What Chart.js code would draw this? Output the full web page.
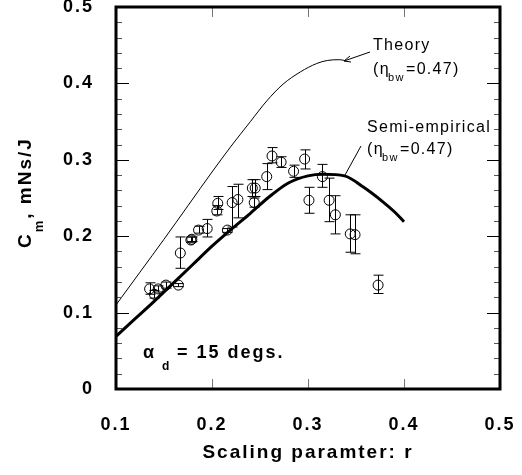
<!DOCTYPE html>
<html>
<head>
<meta charset="utf-8">
<script src="https://cdn.jsdelivr.net/npm/chart.js@4.4.1/dist/chart.umd.min.js"></script>
<style>
  html, body { margin: 0; padding: 0; background: #fff; }
  #wrap { width: 522px; height: 475px; }
</style>
</head>
<body>
<div id="wrap"><canvas id="cmChart" width="522" height="475"></canvas></div>
<script>
// measured points
const rValues  = [0.135, 0.140, 0.144, 0.152, 0.165, 0.167, 0.178, 0.179, 0.186, 0.195,
                  0.205, 0.206, 0.216, 0.221, 0.227, 0.242, 0.244, 0.245, 0.257, 0.2625,
                  0.272, 0.285, 0.2965, 0.301, 0.315, 0.322, 0.3285, 0.344, 0.349, 0.373];
const cmValues = [0.131, 0.124, 0.131, 0.136, 0.136, 0.178, 0.195, 0.196, 0.208, 0.210,
                  0.233, 0.243, 0.208, 0.244, 0.248, 0.263, 0.244, 0.263, 0.278, 0.305,
                  0.297, 0.285, 0.301, 0.247, 0.278, 0.247, 0.228, 0.203, 0.202, 0.136];
const cmLow    = [0.124, 0.119, 0.127, 0.132, 0.134, 0.158, 0.192, 0.193, 0.204, 0.199,
                  0.228, 0.235, 0.205, 0.212, 0.224, 0.252, 0.238, 0.252, 0.261, 0.296,
                  0.290, 0.277, 0.288, 0.230, 0.264, 0.219, 0.203, 0.179, 0.177, 0.125];
const cmHigh   = [0.139, 0.129, 0.135, 0.140, 0.138, 0.199, 0.199, 0.199, 0.213, 0.222,
                  0.240, 0.252, 0.210, 0.265, 0.268, 0.274, 0.250, 0.274, 0.295, 0.316,
                  0.304, 0.293, 0.313, 0.264, 0.294, 0.276, 0.253, 0.228, 0.228, 0.149];

// model curves
const theoryR  = [0.1, 0.125, 0.15, 0.175, 0.2, 0.22, 0.24, 0.257, 0.274, 0.292, 0.309, 0.32, 0.333, 0.338];
const theoryCm = [0.110, 0.153, 0.196, 0.240, 0.284, 0.318, 0.350, 0.377, 0.399, 0.415, 0.426, 0.430, 0.431, 0.430];
const semiR    = [0.1, 0.12, 0.14, 0.16, 0.18, 0.2, 0.22, 0.24, 0.26, 0.28, 0.30, 0.316, 0.338, 0.358, 0.378, 0.39, 0.4];
const semiCm   = [0.069, 0.092, 0.115, 0.139, 0.163, 0.187, 0.209, 0.230, 0.252, 0.270, 0.279, 0.281, 0.279, 0.264, 0.245, 0.232, 0.219];

const xTicks = [0.1, 0.2, 0.3, 0.4, 0.5];
const yTicks = [0, 0.1, 0.2, 0.3, 0.4, 0.5];

const toXY = (xs, ys) => xs.map((x, i) => ({ x: x, y: ys[i] }));

const errorBars = {
  id: 'errorBars',
  afterDatasetsDraw(chart) {
    const ctx = chart.ctx, x = chart.scales.x, y = chart.scales.y;
    ctx.save();
    ctx.strokeStyle = '#000';
    ctx.lineWidth = 1;
    rValues.forEach((r, i) => {
      const px = Math.round(x.getPixelForValue(r)) + 0.5;
      const lo = y.getPixelForValue(cmLow[i]);
      const hi = y.getPixelForValue(cmHigh[i]);
      ctx.beginPath();
      ctx.moveTo(px, lo); ctx.lineTo(px, hi);
      ctx.moveTo(px - 5, lo); ctx.lineTo(px + 5, lo);
      ctx.moveTo(px - 5, hi); ctx.lineTo(px + 5, hi);
      ctx.stroke();
    });
    ctx.restore();
  }
};

const frame = {
  id: 'frame',
  beforeDraw(chart) {
    chart.ctx.letterSpacing = '2px';
  },
  afterDraw(chart) {
    const ctx = chart.ctx, a = chart.chartArea;
    const x = chart.scales.x, y = chart.scales.y;
    ctx.save();
    ctx.letterSpacing = '0px';
    // inward ticks
    ctx.lineWidth = 1;
    for (let k = 1; k < 25; k++) {
      const v = k * 0.02;
      const py = Math.round(y.getPixelForValue(v)) + 0.5;
      const len = (k % 5 === 0) ? 13 : 6;
      ctx.strokeStyle = (k % 5 === 0) ? '#000' : '#555';
      ctx.beginPath();
      ctx.moveTo(a.left, py); ctx.lineTo(a.left + len, py);
      ctx.moveTo(a.right, py); ctx.lineTo(a.right - len, py);
      ctx.stroke();
    }
    ctx.strokeStyle = '#777';
    [0.2, 0.3, 0.4].forEach(v => {
      const px = Math.round(x.getPixelForValue(v)) + 0.5;
      ctx.beginPath();
      ctx.moveTo(px, a.bottom); ctx.lineTo(px, a.bottom - 10);
      ctx.moveTo(px, a.top); ctx.lineTo(px, a.top + 10);
      ctx.stroke();
    });
    // box
    ctx.strokeStyle = '#000';
    ctx.lineWidth = 3;
    ctx.strokeRect(a.left, a.top, a.right - a.left, a.bottom - a.top);

    // y axis title with subscript
    ctx.fillStyle = '#000';
    ctx.translate(31, 248);
    ctx.rotate(-Math.PI / 2);
    ctx.letterSpacing = '2px';
    ctx.textBaseline = 'alphabetic';
    ctx.font = 'bold 19px "Liberation Sans", Arial, sans-serif';
    ctx.fillText('C', 0, 0);
    let w = ctx.measureText('C').width;
    ctx.font = 'bold 13px "Liberation Sans", Arial, sans-serif';
    ctx.fillText('m', w, 12);
    w += ctx.measureText('m').width;
    ctx.font = 'bold 19px "Liberation Sans", Arial, sans-serif';
    ctx.fillText(', mNs/J', w, 0);
    ctx.restore();

    // annotations
    ctx.save();
    ctx.fillStyle = '#000';
    ctx.strokeStyle = '#000';
    ctx.lineWidth = 1;
    const reg = '16px "Liberation Sans", Arial, sans-serif';
    const sub = '11px "Liberation Sans", Arial, sans-serif';
    ctx.letterSpacing = '1.3px';
    const eta = (left, base) => {
      ctx.font = reg;
      ctx.fillText('(\u03b7', left, base);
      ctx.font = sub;
      ctx.fillText('bw', left + 15, base + 7);
      ctx.font = reg;
      ctx.fillText('=0.47)', left + 33, base);
    };
    ctx.font = reg;
    ctx.fillText('Theory', 373, 50);
    eta(373, 74);
    ctx.fillText('Semi-empirical', 367, 132);
    eta(367, 154);

    ctx.beginPath();
    ctx.moveTo(370, 52); ctx.lineTo(344, 61);
    ctx.moveTo(344, 61); ctx.lineTo(350, 56);
    ctx.moveTo(344, 61); ctx.lineTo(351, 62);
    ctx.moveTo(361, 146); ctx.lineTo(345, 175);
    ctx.stroke();

    // alpha label
    ctx.letterSpacing = '2px';
    ctx.font = 'bold 18px "Liberation Sans", Arial, sans-serif';
    ctx.fillText('\u03b1', 143, 358);
    ctx.font = 'bold 12px "Liberation Sans", Arial, sans-serif';
    ctx.fillText('d', 162, 370);
    ctx.font = 'bold 18px "Liberation Sans", Arial, sans-serif';
    ctx.fillText('= 15 degs.', 177, 358);
    ctx.restore();
  }
};

const ctx = document.getElementById('cmChart').getContext('2d');
const cmChart = new Chart(ctx, {
  type: 'scatter',
  data: {
    datasets: [{
      label: 'Theory',
      data: toXY(theoryR, theoryCm),
      showLine: true,
      borderColor: '#000',
      borderWidth: 1,
      pointRadius: 0,
      cubicInterpolationMode: 'monotone'
    }, {
      label: 'Semi-empirical',
      data: toXY(semiR, semiCm),
      showLine: true,
      borderColor: '#000',
      borderWidth: 3,
      pointRadius: 0,
      cubicInterpolationMode: 'monotone'
    }, {
      label: 'Experiment',
      data: toXY(rValues, cmValues),
      pointStyle: 'circle',
      pointRadius: 5,
      borderColor: '#000',
      borderWidth: 1,
      backgroundColor: 'rgba(0,0,0,0)'
    }]
  },
  options: {
    responsive: false,
    animation: false,
    layout: { padding: { top: 7, right: 22, left: 0, bottom: 0 } },
    plugins: { legend: { display: false }, tooltip: { enabled: false } },
    scales: {
      x: {
        type: 'linear',
        min: 0.1, max: 0.5,
        afterBuildTicks: (s) => { s.ticks = xTicks.map(v => ({ value: v })); },
        afterFit: (s) => { s.height = 86; s.paddingLeft = 0; s.paddingRight = 0; },
        grid: { display: false },
        border: { display: false },
        ticks: {
          padding: 17,
          color: '#000',
          font: { family: '"Liberation Sans", Arial, sans-serif', size: 18, weight: 'bold' },
          callback: (v) => v.toFixed(1)
        },
        title: {
          display: true,
          text: 'Scaling paramter: r',
          color: '#000',
          padding: { top: 2, bottom: 11 },
          font: { family: '"Liberation Sans", Arial, sans-serif', size: 19, weight: 'bold' }
        }
      },
      y: {
        type: 'linear',
        min: 0, max: 0.5,
        afterBuildTicks: (s) => { s.ticks = yTicks.map(v => ({ value: v })); },
        afterFit: (s) => { s.width = 116; s.paddingTop = 0; s.paddingBottom = 0; },
        grid: { display: false },
        border: { display: false },
        ticks: {
          padding: 14,
          color: '#000',
          font: { family: '"Liberation Sans", Arial, sans-serif', size: 18, weight: 'bold' },
          callback: (v) => v === 0 ? '0' : v.toFixed(1)
        }
      }
    }
  },
  plugins: [errorBars, frame]
});
</script>
</body>
</html>
